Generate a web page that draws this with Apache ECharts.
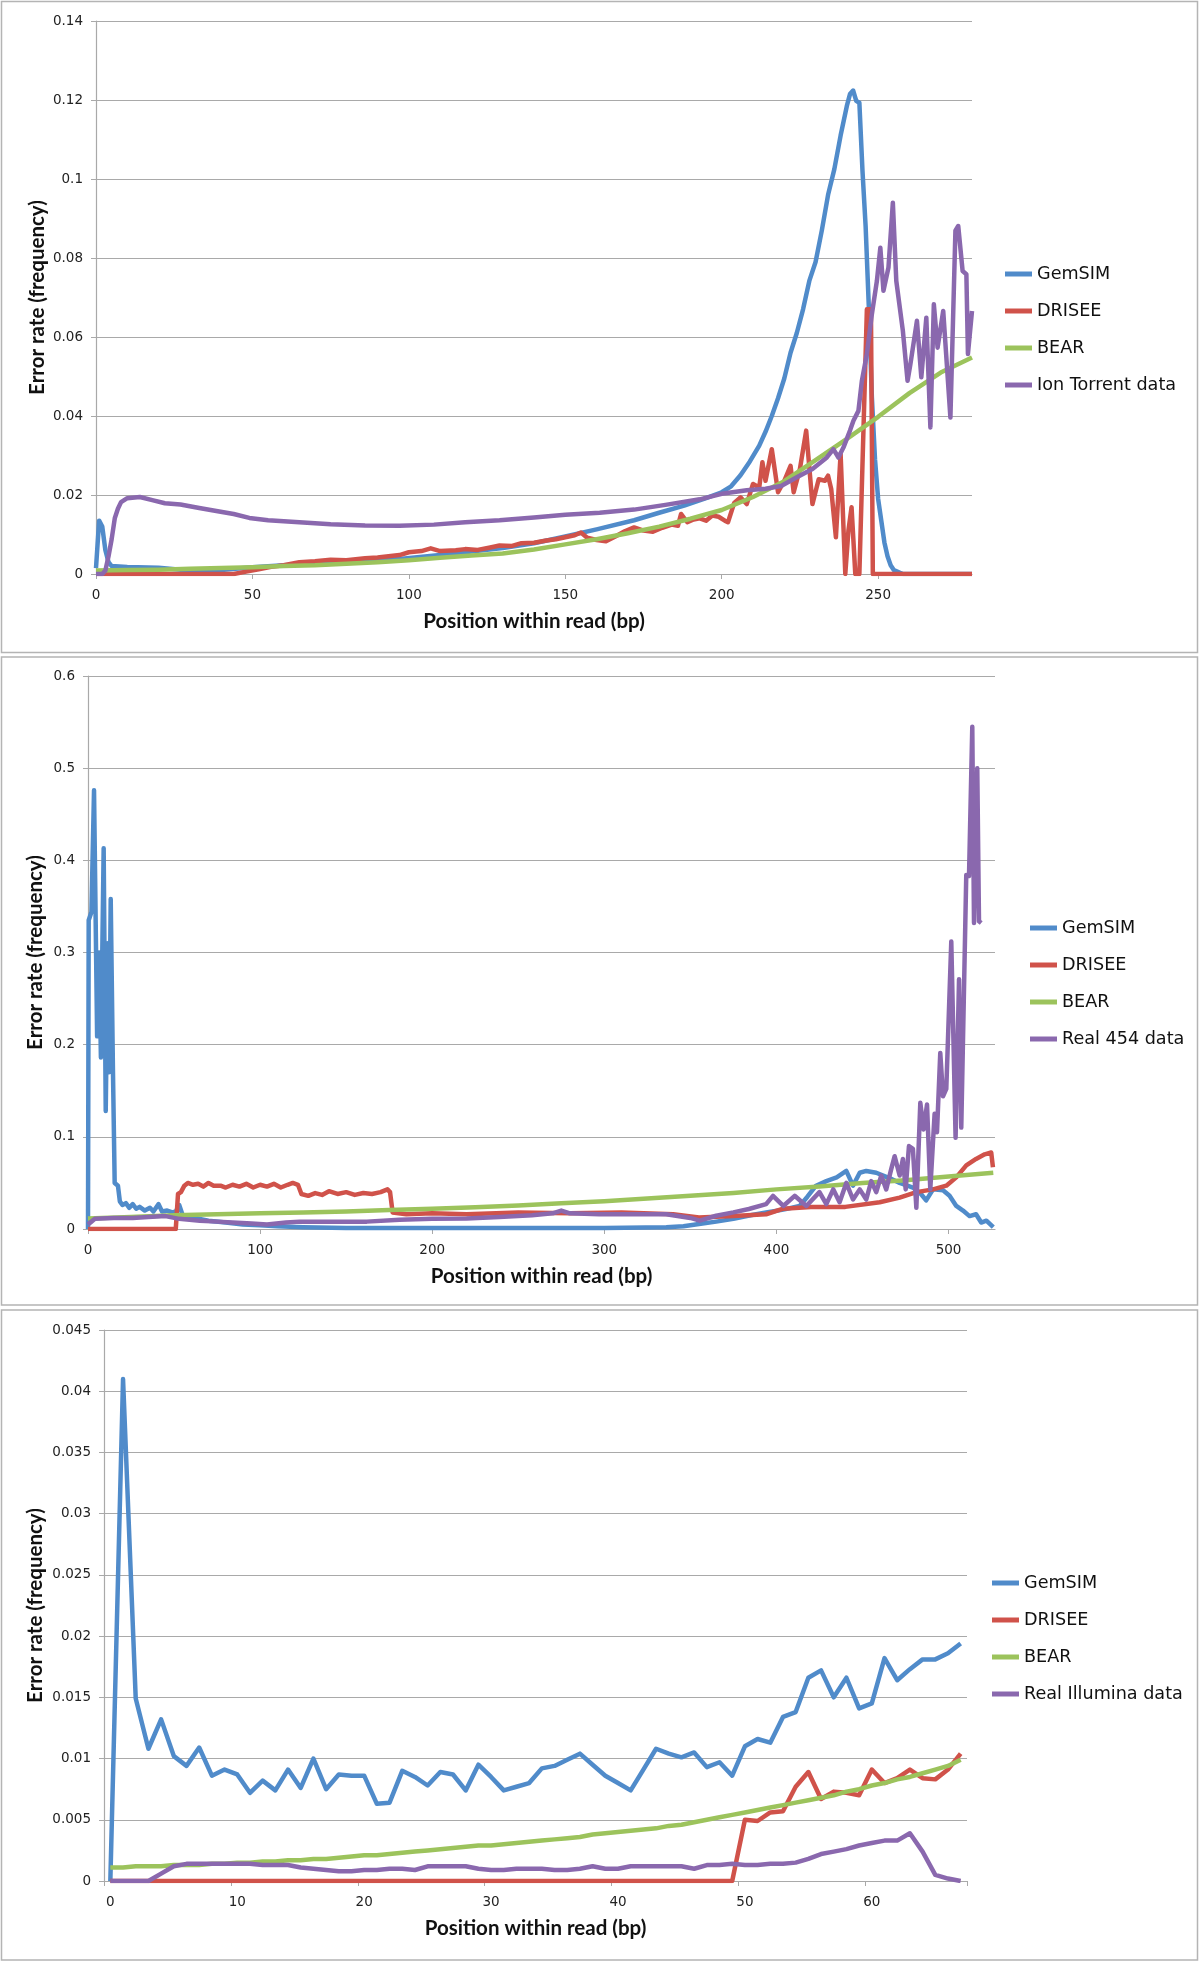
<!DOCTYPE html>
<html>
<head>
<meta charset="utf-8">
<title>Error rate by position within read</title>
<script src="https://cdn.jsdelivr.net/npm/echarts@6/dist/echarts.min.js"></script>
<style>
html, body { margin: 0; padding: 0; background: #fff; }
#main { width: 1200px; height: 1962px; }
</style>
</head>
<body>
<div id="main"></div>
<script>
// ---- panel 1 : Ion Torrent, [position (bp), error rate] ----
var p1GemSIM = [[0,0.0015],[1,0.0135],[2,0.012],[3,0.006],[4,0.003],[5,0.002],[10,0.0018],[20,0.0016],[28,0.001],[40,0.001],
  [50,0.0017],[60,0.0022],[75,0.0027],[90,0.0034],[97,0.0038],[110,0.0048],[120,0.0057],[130,0.0066],[140,0.0078],
  [150,0.0095],[160,0.0113],[172,0.0136],[180,0.0155],[188,0.0173],[195,0.0192],[200,0.0207],[203,0.0222],[206,0.025],
  [209,0.0285],[212,0.0325],[214,0.036],[216,0.040],[218,0.0445],[220,0.0495],[222,0.056],[224,0.061],[226,0.067],
  [228,0.0742],[230,0.079],[232,0.087],[234,0.096],[236,0.1025],[238,0.111],[240,0.1185],[241,0.1215],[242,0.1224],
  [243,0.1198],[244,0.1193],[245,0.102],[246,0.088],[247,0.068],[248,0.0447],[249,0.029],[250,0.019],[251,0.0135],
  [252,0.008],[253,0.0045],[254,0.0022],[255,0.001],[257,0.0003],[258,0],[280,0]];
var p1DRISEE = [[0,0],[44,0],[48,0.0006],[52,0.0012],[56,0.0018],[60,0.0022],[65,0.003],[70,0.0032],[75,0.0036],[80,0.0035],
  [86,0.004],[90,0.0042],[97,0.0048],[100,0.0055],[104,0.0058],[107,0.0065],[110,0.0058],[115,0.006],[118,0.0063],
  [122,0.0061],[126,0.0067],[129,0.0072],[133,0.0071],[136,0.0078],[140,0.0079],[144,0.0085],[147,0.0088],[150,0.0093],
  [153,0.0098],[155,0.0105],[157,0.0092],[160,0.0086],[163,0.0083],[166,0.0095],[169,0.0108],[172,0.0118],[175,0.011],
  [178,0.0107],[181,0.0117],[184,0.0125],[186,0.0122],[187,0.0152],[189,0.0131],[191,0.0138],[193,0.0141],[195,0.0135],
  [197,0.0148],[199,0.0145],[201,0.0135],[202,0.0131],[204,0.018],[206,0.0194],[208,0.0177],[210,0.0228],[212,0.0219],
  [213,0.0283],[214,0.0236],[216,0.0316],[218,0.0207],[220,0.0236],[222,0.0274],[223,0.0207],[225,0.0266],[227,0.0363],
  [229,0.0177],[231,0.024],[233,0.0236],[234,0.0249],[235,0.0215],[236.5,0.0093],[238,0.0304],[239.5,0],[240.5,0.011],
  [241.5,0.0169],[242.7,0],[244,0],[246.4,0.067],[247.7,0.067],[248.3,0],[280,0]];
var p1BEAR = [[0,0.0009],[10,0.001],[20,0.0011],[30,0.0013],[40,0.0015],[50,0.0017],[60,0.002],[70,0.0022],[80,0.0026],
  [90,0.003],[100,0.0035],[110,0.0041],[120,0.0047],[130,0.0052],[140,0.0062],[150,0.0075],[160,0.0088],[170,0.0103],
  [180,0.012],[190,0.014],[200,0.0162],[210,0.0195],[220,0.0235],[230,0.0288],[240,0.0342],[250,0.0398],[260,0.0458],
  [270,0.051],[280,0.0548]];
var p1IonTorrent = [[0,0],[2,0],[3,0.0009],[4,0.0045],[5,0.0088],[6,0.0141],[7,0.0165],[8,0.0182],[10,0.0192],[14,0.0195],
  [18,0.0187],[22,0.0179],[27,0.0176],[33,0.0167],[38,0.016],[44,0.0152],[49,0.0142],[55,0.0136],[65,0.0131],[75,0.0126],
  [86,0.0123],[97,0.0122],[108,0.0125],[118,0.0131],[129,0.0136],[140,0.0143],[150,0.015],[161,0.0155],[172,0.0163],
  [182,0.0175],[193,0.0189],[200,0.0203],[208,0.0212],[214,0.0216],[219,0.0223],[224,0.0245],[229,0.0266],[233.6,0.0295],
  [235.7,0.0316],[237.3,0.0295],[238.9,0.032],[241,0.0363],[242.1,0.0388],[243.7,0.0413],[244.8,0.0489],[246.4,0.0557],
  [248,0.0658],[249.6,0.0742],[250.7,0.0826],[251.7,0.0717],[253.3,0.0776],[254.7,0.094],[255.8,0.0742],[257.9,0.0616],
  [259.4,0.0489],[260.3,0.0531],[262.4,0.0641],[263.8,0.0498],[265.4,0.0649],[266.7,0.0371],[267.8,0.0683],[269,0.0573],
  [270.8,0.0666],[273.1,0.0396],[274.7,0.0869],[275.6,0.0881],[277,0.0767],[278.2,0.0759],[278.7,0.0557],[280,0.0666]];

// ---- panel 2 : 454 ----
var p2GemSIM = [[0,0],[0.4,0.335],[2,0.344],[3.5,0.476],[5.3,0.209],[6.5,0.3],[7.5,0.186],[9.1,0.413],[10.3,0.128],
  [11.5,0.31],[12.2,0.17],[13.2,0.358],[14.5,0.172],[15.5,0.05],[17.4,0.047],[18.5,0.03],[20,0.026],[22,0.028],[24,0.023],
  [26,0.027],[28,0.022],[30,0.024],[33,0.02],[36,0.023],[38,0.019],[41,0.027],[43,0.019],[46,0.02],[49,0.018],[51,0.019],
  [53,0.026],[54,0.028],[55,0.015],[58,0.013],[62,0.012],[70,0.009],[80,0.007],[90,0.005],[100,0.004],[110,0.003],
  [125,0.002],[150,0.001],[200,0.001],[250,0.001],[300,0.001],[336,0.002],[346,0.003],[355,0.0054],[365,0.008],
  [375,0.011],[385,0.015],[394,0.018],[404,0.021],[413.5,0.025],[418,0.035],[423,0.047],[429,0.052],[435,0.056],
  [440.6,0.063],[444.5,0.047],[448.4,0.061],[452.2,0.063],[458,0.061],[462,0.058],[466,0.055],[471.6,0.05],[479.3,0.045],
  [484,0.038],[487,0.031],[491,0.043],[496.8,0.042],[500.6,0.036],[504.5,0.025],[508.4,0.02],[512.2,0.014],[516,0.016],
  [519,0.007],[522,0.009],[526,0.002]];
var p2DRISEE = [[0,0],[51,0],[52.3,0.038],[54,0.04],[56,0.047],[58,0.05],[61,0.048],[64,0.049],[67,0.046],[70,0.05],
  [73,0.047],[77,0.047],[80,0.045],[84,0.048],[88,0.046],[92,0.049],[96,0.045],[100,0.048],[104,0.046],[108,0.049],
  [112,0.045],[116,0.048],[119,0.05],[122,0.048],[124,0.038],[128,0.036],[132,0.039],[136,0.037],[140,0.041],[145,0.038],
  [150,0.04],[155,0.037],[160,0.039],[165,0.038],[170,0.04],[174,0.043],[175.5,0.04],[177,0.018],[185,0.016],[200,0.017],
  [220,0.016],[250,0.018],[280,0.017],[310,0.018],[340,0.016],[355,0.0126],[375,0.014],[394,0.016],[404,0.022],
  [420,0.024],[440,0.024],[460,0.029],[471.6,0.034],[481.3,0.04],[491,0.043],[498.7,0.047],[504.5,0.056],[510.3,0.069],
  [516,0.076],[521,0.081],[524.8,0.083],[525.8,0.067]];
var p2BEAR = [[0,0.0115],[25,0.013],[50,0.015],[75,0.016],[100,0.017],[125,0.018],[150,0.019],[175,0.0205],[200,0.022],
  [225,0.0235],[250,0.0255],[275,0.028],[300,0.03],[325,0.033],[350,0.036],[375,0.039],[400,0.043],[425,0.046],
  [450,0.05],[475,0.053],[500,0.057],[526,0.061]];
var p2Real454 = [[0,0.005],[2,0.008],[4,0.011],[15,0.012],[26,0.012],[35,0.013],[45,0.014],[53,0.011],[65,0.009],[75,0.008],
  [84,0.007],[95,0.006],[104,0.005],[115,0.007],[123,0.008],[142,0.008],[162,0.008],[181,0.01],[200,0.011],[220,0.0115],
  [239,0.013],[258,0.015],[270,0.017],[275,0.02],[280,0.017],[297,0.016],[317,0.016],[336,0.016],[350,0.012],[355.4,0.009],
  [365,0.0144],[375,0.018],[384,0.0217],[394,0.027],[398,0.036],[404,0.025],[410.6,0.036],[417.4,0.025],[425,0.04],
  [429,0.027],[433,0.043],[436.7,0.029],[440.6,0.05],[444.5,0.032],[448.4,0.043],[452.2,0.032],[455.1,0.052],[458,0.04],
  [460.9,0.058],[463.8,0.043],[466.7,0.065],[468.7,0.079],[471.6,0.058],[473.5,0.076],[475.1,0.043],[477,0.09],
  [479.3,0.087],[481.3,0.023],[483.6,0.137],[485.5,0.108],[487.5,0.135],[489.4,0.043],[491.9,0.125],[493.3,0.105],
  [495.2,0.191],[496.8,0.144],[498.7,0.152],[501.6,0.312],[504.1,0.099],[506.1,0.271],[507.4,0.11],[510.3,0.384],
  [511.9,0.383],[513.8,0.545],[514.8,0.332],[516.7,0.5],[517.7,0.334],[519,0.332]];

// ---- panel 3 : Illumina, one value per position ----
var p3Positions = [0,1,2,3,4,5,6,7,8,9,10,11,12,13,14,15,16,17,18,19,20,21,22,23,24,25,26,27,28,29,30,31,32,33,
  34,35,36,37,38,39,40,41,42,43,44,45,46,47,48,49,50,51,52,53,54,55,56,57,58,59,60,61,62,63,64,65,66,67];
var p3GemSIM = [0,0.041,0.0149,0.0108,0.0132,0.0102,0.0094,0.0109,0.0086,0.0091,
  0.0087,0.0072,0.0082,0.0074,0.0091,0.0076,0.01,0.0075,0.0087,0.0086,
  0.0086,0.0063,0.0064,0.009,0.0085,0.0078,0.0089,0.0087,0.0074,0.0095,
  0.0085,0.0074,0.0077,0.008,0.0092,0.0094,0.0099,0.0104,0.0095,0.0086,
  0.008,0.0074,0.0091,0.0108,0.0104,0.0101,0.0105,0.0093,0.0097,0.0086,
  0.011,0.0116,0.0113,0.0134,0.0138,0.0166,0.0172,0.015,0.0166,0.0141,
  0.0145,0.0182,0.0164,0.0173,0.0181,0.0181,0.0186,0.0194];
var p3DRISEE = [0,0,0,0,0,0,0,0,0,0,
  0,0,0,0,0,0,0,0,0,0,
  0,0,0,0,0,0,0,0,0,0,
  0,0,0,0,0,0,0,0,0,0,
  0,0,0,0,0,0,0,0,0,0,
  0.005,0.0049,0.0056,0.0057,0.0077,0.0089,0.0067,0.0073,0.0072,0.007,
  0.0091,0.008,0.0084,0.0091,0.0084,0.0083,0.0091,0.0104];
var p3BEAR = [0.0011,0.0011,0.0012,0.0012,0.0012,0.0013,0.0013,0.0013,0.0014,0.0014,
  0.0015,0.0015,0.0016,0.0016,0.0017,0.0017,0.0018,0.0018,0.0019,0.002,
  0.0021,0.0021,0.0022,0.0023,0.0024,0.0025,0.0026,0.0027,0.0028,0.0029,
  0.0029,0.003,0.0031,0.0032,0.0033,0.0034,0.0035,0.0036,0.0038,0.0039,
  0.004,0.0041,0.0042,0.0043,0.0045,0.0046,0.0048,0.005,0.0052,0.0054,
  0.0056,0.0058,0.006,0.0062,0.0064,0.0066,0.0068,0.007,0.0073,0.0075,
  0.0078,0.008,0.0083,0.0085,0.0088,0.0091,0.0094,0.0099];
var p3Illumina = [0,0,0,0,0.0006,0.0012,0.0014,0.0014,0.0014,0.0014,
  0.0014,0.0014,0.0013,0.0013,0.0013,0.0011,0.001,0.0009,0.0008,0.0008,
  0.0009,0.0009,0.001,0.001,0.0009,0.0012,0.0012,0.0012,0.0012,0.001,
  0.0009,0.0009,0.001,0.001,0.001,0.0009,0.0009,0.001,0.0012,0.001,
  0.001,0.0012,0.0012,0.0012,0.0012,0.0012,0.001,0.0013,0.0013,0.0014,
  0.0013,0.0013,0.0014,0.0014,0.0015,0.0018,0.0022,0.0024,0.0026,0.0029,
  0.0031,0.0033,0.0033,0.0039,0.0024,0.0005,0.0002,0];

var BLUE = '#508bca', RED = '#d0524a', GREEN = '#9cc35c', PURPLE = '#8a68ae';
var GRID_GRAY = '#a9a9a9';
var TICK_FONT = 'DejaVu Sans';
var TITLE_FONT = 'Lato';

var chart = echarts.init(document.getElementById('main'));

function yAxisFor(idx, max, interval, gap) {
  return {
    gridIndex: idx, type: 'value', min: 0, max: max, interval: interval,
    name: 'Error rate (frequency)', nameLocation: 'middle', nameRotate: 90, nameGap: gap,
    nameMoveOverlap: false,
    nameTextStyle: { fontFamily: TITLE_FONT, fontWeight: 'bold', fontSize: 20.5, color: '#111' },
    axisLine: { show: true, lineStyle: { color: GRID_GRAY, width: 1.2 } },
    axisTick: { show: true, inside: false, length: 5, lineStyle: { color: GRID_GRAY } },
    axisLabel: { fontFamily: TICK_FONT, fontSize: 13.5, color: '#222', margin: 13 },
    splitLine: { show: true, lineStyle: { color: GRID_GRAY, width: 1.2 } }
  };
}

function xAxisCommon(idx) {
  return {
    gridIndex: idx,
    name: 'Position within read (bp)', nameLocation: 'middle', nameGap: 37,
    nameMoveOverlap: false,
    nameTextStyle: { fontFamily: TITLE_FONT, fontWeight: 'bold', fontSize: 20.5, color: '#111' },
    axisLine: { show: true, onZero: false, lineStyle: { color: GRID_GRAY, width: 1.2 } },
    axisTick: { show: true, inside: false, length: 5, lineStyle: { color: GRID_GRAY } },
    axisLabel: { fontFamily: TICK_FONT, fontSize: 13.5, color: '#222', margin: 14, showMaxLabel: false },
    splitLine: { show: false }
  };
}

var x1 = xAxisCommon(0);
x1.type = 'value'; x1.min = 0; x1.max = 280; x1.interval = 50;
var x2 = xAxisCommon(1);
x2.type = 'value'; x2.min = 0; x2.max = 527; x2.interval = 100;
var x3 = xAxisCommon(2);
x3.type = 'category'; x3.data = p3Positions; x3.boundaryGap = true;
x3.axisLabel.interval = 9; x3.axisLabel.showMaxLabel = null;
x3.axisTick.interval = 9;

function line(name, data, color, axisIdx, width) {
  return {
    name: name, type: 'line', data: data,
    xAxisIndex: axisIdx, yAxisIndex: axisIdx,
    showSymbol: false, symbol: 'none', smooth: false,
    color: color,
    lineStyle: { color: color, width: width, join: 'round' }
  };
}

function legendAt(names, left, top) {
  return {
    data: names, orient: 'vertical', left: left, top: top, padding: 0,
    icon: 'rect', itemWidth: 27, itemHeight: 5, itemGap: 17,
    textStyle: { fontFamily: TICK_FONT, fontSize: 17.6, lineHeight: 20, color: '#111' }
  };
}

function border(y, h) {
  return {
    type: 'rect', silent: true,
    shape: { x: 1.5, y: y, width: 1196, height: h },
    style: { fill: 'none', stroke: '#b4b4b4', lineWidth: 1.5 }
  };
}

var option = {
  animation: false,
  backgroundColor: '#ffffff',
  graphic: [border(1.5, 651), border(657, 648), border(1310, 650)],
  grid: [
    { left: 96, top: 21, width: 876, height: 553 },
    { left: 88, top: 676, width: 907, height: 553 },
    { left: 104, top: 1330, width: 863, height: 551 }
  ],
  legend: [
    legendAt(['GemSIM', 'DRISEE', 'BEAR', 'Ion Torrent data'], 1005, 264),
    legendAt(['GemSIM', 'DRISEE', 'BEAR', 'Real 454 data'], 1030, 918),
    legendAt(['GemSIM', 'DRISEE', 'BEAR', 'Real Illumina data'], 992, 1573)
  ],
  xAxis: [x1, x2, x3],
  yAxis: [
    yAxisFor(0, 0.14, 0.02, 48),
    yAxisFor(1, 0.6, 0.1, 42),
    yAxisFor(2, 0.045, 0.005, 58)
  ],
  series: [
    line('GemSIM', p1GemSIM, BLUE, 0, 4.5),
    line('DRISEE', p1DRISEE, RED, 0, 4.5),
    line('BEAR', p1BEAR, GREEN, 0, 4.5),
    line('Ion Torrent data', p1IonTorrent, PURPLE, 0, 4.5),
    line('GemSIM', p2GemSIM, BLUE, 1, 4.5),
    line('DRISEE', p2DRISEE, RED, 1, 4.5),
    line('BEAR', p2BEAR, GREEN, 1, 4.5),
    line('Real 454 data', p2Real454, PURPLE, 1, 4.5),
    line('GemSIM', p3GemSIM, BLUE, 2, 4.5),
    line('DRISEE', p3DRISEE, RED, 2, 4.5),
    line('BEAR', p3BEAR, GREEN, 2, 4.5),
    line('Real Illumina data', p3Illumina, PURPLE, 2, 4.5)
  ]
};

chart.setOption(option);
</script>
</body>
</html>
